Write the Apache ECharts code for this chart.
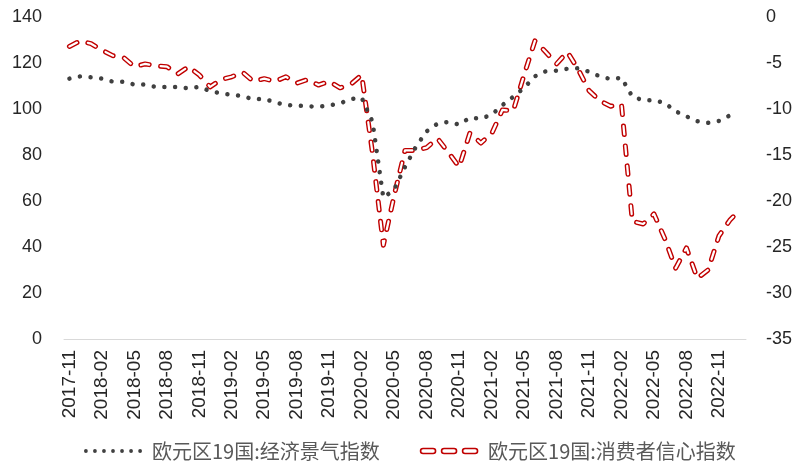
<!DOCTYPE html>
<html>
<head>
<meta charset="utf-8">
<script src="https://cdn.jsdelivr.net/npm/echarts@6/dist/echarts.min.js"></script>
<style>
  html, body { margin: 0; padding: 0; background: #fff; }
  #chart { width: 795px; height: 465px; }
</style>
</head>
<body>
<div id="chart"></div>
<script>
// months 2017-11 .. 2023-01
var months = [];
for (var y = 2017, m = 11; months.length < 63; m++) {
  if (m > 12) { m = 1; y++; }
  months.push(y + '-' + (m < 10 ? '0' + m : m));
}

var esiName = '欧元区19国:经济景气指数';
var confName = '欧元区19国:消费者信心指数';

// 经济景气指数 (left axis)
var esi = [113.2, 114.2, 113.8, 113.2, 111.9, 111.9, 110.6, 110.6, 109.6, 109.6,
  109.6, 109.0, 109.6, 107.8, 106.8, 106.2, 105.6, 104.2, 104.4, 102.9,
  101.7, 101.5, 101.2, 101.0, 101.5, 102.5, 104.3, 104.9, 94.5, 61.4,
  65.0, 74.8, 83.5, 90.3, 93.6, 94.4, 93.2, 96.2, 95.8, 97.5,
  101.7, 105.3, 109.2, 114.2, 116.4, 116.7, 117.5, 117.7, 116.2, 114.2,
  113.0, 113.6, 105.4, 103.8, 103.8, 102.6, 99.0, 96.8, 94.7, 94.0,
  94.8, 97.2, null];

// 消费者信心指数 (right axis)
var conf = [-3.2, -2.6, -2.9, -3.6, -4.2, -4.4, -5.4, -5.1, -5.3, -5.4,
  -6.2, -5.4, -6.3, -7.6, -6.8, -6.5, -6.0, -7.0, -6.7, -7.0,
  -6.5, -7.2, -6.8, -7.4, -7.0, -7.7, -7.3, -6.3, -14.8, -24.8,
  -19.4, -14.5, -14.5, -14.2, -13.2, -14.7, -16.3, -12.6, -13.7, -12.7,
  -10.1, -10.2, -6.3, -2.6, -3.8, -5.1, -3.8, -5.7, -8.0, -9.1,
  -9.7, -9.5, -22.2, -22.5, -21.4, -24.1, -27.3, -25.1, -28.4, -27.5,
  -23.8, -22.1, -20.9];

var leftTicks = [0, 140, 20];
var rightTicks = [-35, 0, 5];

// legend icons: 7 dots / 3 hollow dashes
var dotIcon = 'path://';
for (var k = 0; k < 7; k++) {
  var cx = 2 + k * 9.5;
  dotIcon += 'M' + (cx - 2) + ',2A2,2,0,1,0,' + (cx + 2) + ',2A2,2,0,1,0,' + (cx - 2) + ',2Z';
}
var dashIcon = 'path://M2.5,0H12.5A2.5,2.5,0,0,1,12.5,5H2.5A2.5,2.5,0,0,1,2.5,0Z' +
  'M23.5,0H33.5A2.5,2.5,0,0,1,33.5,5H23.5A2.5,2.5,0,0,1,23.5,0Z' +
  'M44.5,0H54.5A2.5,2.5,0,0,1,54.5,5H44.5A2.5,2.5,0,0,1,44.5,0Z';

var red = '#C00000';
var numFont = "'Liberation Sans', Arial, sans-serif";

var chart = echarts.init(document.getElementById('chart'));
chart.setOption({
  animation: false,
  grid: { left: 64, right: 47, top: 17, bottom: 126 },
  legend: {
    left: 79,
    top: 436,
    itemGap: 40,
    itemWidth: 58,
    itemHeight: 5,
    textStyle: { fontFamily: "'Noto Sans CJK SC', sans-serif", fontSize: 20, color: '#595959', padding: [0, 0, 0, 5] },
    data: [
      { name: esiName, icon: dotIcon, itemStyle: { color: '#404040' } },
      { name: confName, icon: dashIcon, itemStyle: { color: '#fff', borderColor: red, borderWidth: 1.6 } }
    ]
  },
  xAxis: {
    type: 'category',
    data: months,
    boundaryGap: true,
    axisLine: { lineStyle: { color: '#D9D9D9', width: 1 } },
    axisTick: { interval: 2, length: 5, lineStyle: { color: '#D9D9D9' } },
    axisLabel: { interval: 2, rotate: 90, margin: 11, fontFamily: numFont, fontSize: 19, color: '#262626' }
  },
  yAxis: [
    {
      type: 'value', min: leftTicks[0], max: leftTicks[1], interval: leftTicks[2],
      axisLine: { show: false }, axisTick: { show: false }, splitLine: { show: false },
      axisLabel: { margin: 22, fontFamily: numFont, fontSize: 18, color: '#262626' }
    },
    {
      type: 'value', min: rightTicks[0], max: rightTicks[1], interval: rightTicks[2],
      axisLine: { show: false }, axisTick: { show: false }, splitLine: { show: false },
      axisLabel: { margin: 20, fontFamily: numFont, fontSize: 18, color: '#262626' }
    }
  ],
  series: [
    {
      name: confName, type: 'line', yAxisIndex: 1, data: conf,
      showSymbol: false, symbol: 'none', z: 2,
      lineStyle: { color: red, width: 5, type: [8.5, 11.5], cap: 'round', join: 'round' }
    },
    {
      name: 'confInner', type: 'line', yAxisIndex: 1, data: conf,
      showSymbol: false, symbol: 'none', z: 3, silent: true,
      lineStyle: { color: '#fff', width: 2.2, type: [8.5, 11.5], cap: 'round', join: 'round' }
    },
    {
      name: esiName, type: 'line', yAxisIndex: 0, data: esi,
      showSymbol: false, symbol: 'none', z: 4,
      lineStyle: { color: '#404040', width: 4.5, type: [0.01, 10.7], cap: 'round', join: 'round' }
    }
  ]
});
</script>
</body>
</html>
